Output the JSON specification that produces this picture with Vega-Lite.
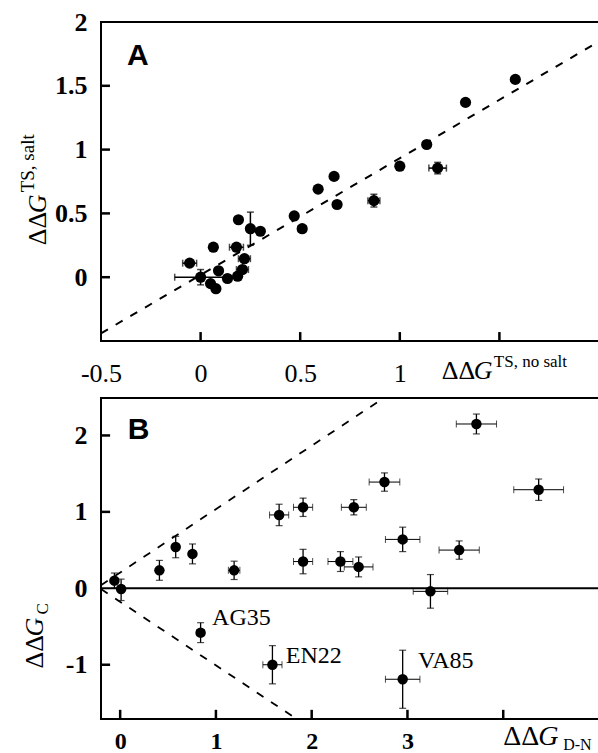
{
  "$schema": "https://vega.github.io/schema/vega-lite/v6.json",
  "padding": {"left": 17, "top": 8, "right": 0, "bottom": 0},
  "bounds": "flush",
  "spacing": 57,
  "config": {
    "view": {"stroke": "black", "strokeWidth": 2}
  },
  "datasets": {
    "A": [
      {"x": -0.055, "y": 0.11, "xlo": -0.09, "xhi": -0.02},
      {"x": 0.064, "y": 0.235},
      {"x": 0.0, "y": 0.0, "xlo": -0.13, "xhi": 0.13, "ylo": -0.06, "yhi": 0.06},
      {"x": 0.05, "y": -0.05},
      {"x": 0.077, "y": -0.09},
      {"x": 0.09, "y": 0.05},
      {"x": 0.135, "y": -0.01},
      {"x": 0.186, "y": 0.008},
      {"x": 0.18, "y": 0.235, "xlo": 0.145, "xhi": 0.215},
      {"x": 0.19, "y": 0.45},
      {"x": 0.22, "y": 0.145, "xlo": 0.19, "xhi": 0.25},
      {"x": 0.21, "y": 0.06, "xlo": 0.18, "xhi": 0.24},
      {"x": 0.25, "y": 0.38, "ylo": 0.25, "yhi": 0.51},
      {"x": 0.3, "y": 0.36},
      {"x": 0.47, "y": 0.48},
      {"x": 0.51, "y": 0.38, "xlo": 0.49, "xhi": 0.53},
      {"x": 0.59, "y": 0.69},
      {"x": 0.67, "y": 0.79},
      {"x": 0.685, "y": 0.57},
      {"x": 0.87, "y": 0.6, "xlo": 0.84, "xhi": 0.9, "ylo": 0.55, "yhi": 0.65},
      {"x": 1.0, "y": 0.87},
      {"x": 1.135, "y": 1.04},
      {"x": 1.19, "y": 0.855, "xlo": 1.146, "xhi": 1.234, "ylo": 0.81, "yhi": 0.9},
      {"x": 1.33, "y": 1.37},
      {"x": 1.58, "y": 1.55}
    ],
    "Aline": [
      {"x": -0.5, "y": -0.44},
      {"x": 1.97, "y": 1.82}
    ],
    "Apanel": [
      {"t": "A", "x": -0.37, "y": 1.66}
    ],
    "Axt": [
      {"x": 0, "y": -0.5, "y2": -0.43},
      {"x": 0.5, "y": -0.5, "y2": -0.43},
      {"x": 1, "y": -0.5, "y2": -0.43},
      {"x": 1.5, "y": -0.5, "y2": -0.43}
    ],
    "Ayt": [
      {"y": 0, "x": -0.5, "x2": -0.455},
      {"y": 0.5, "x": -0.5, "x2": -0.455},
      {"y": 1, "x": -0.5, "x2": -0.455},
      {"y": 1.5, "x": -0.5, "x2": -0.455}
    ],
    "Bxt": [
      {"x": 0, "y": -1.71, "y2": -1.59},
      {"x": 1, "y": -1.71, "y2": -1.59},
      {"x": 2, "y": -1.71, "y2": -1.59},
      {"x": 3, "y": -1.71, "y2": -1.59},
      {"x": 4, "y": -1.71, "y2": -1.59}
    ],
    "Byt": [
      {"y": -1, "x": -0.2, "x2": -0.105},
      {"y": 1, "x": -0.2, "x2": -0.105},
      {"y": 2, "x": -0.2, "x2": -0.105}
    ],
    "B": [
      {"x": -0.06, "y": 0.1, "ylo": 0.0, "yhi": 0.2},
      {"x": 0.01, "y": -0.01, "ylo": -0.16, "yhi": 0.12},
      {"x": 0.41, "y": 0.235, "ylo": 0.105, "yhi": 0.365},
      {"x": 0.58, "y": 0.54, "ylo": 0.4, "yhi": 0.68},
      {"x": 0.755, "y": 0.45, "ylo": 0.32, "yhi": 0.58},
      {"x": 1.19, "y": 0.235, "xlo": 1.13, "xhi": 1.25, "ylo": 0.115, "yhi": 0.355},
      {"x": 0.84, "y": -0.58, "xlo": 0.8, "xhi": 0.88, "ylo": -0.71, "yhi": -0.45},
      {"x": 1.59, "y": -1.0, "xlo": 1.49, "xhi": 1.69, "ylo": -1.25, "yhi": -0.75},
      {"x": 1.66, "y": 0.96, "xlo": 1.56, "xhi": 1.76, "ylo": 0.82, "yhi": 1.1},
      {"x": 1.91, "y": 1.06, "xlo": 1.81, "xhi": 2.01, "ylo": 0.94, "yhi": 1.18},
      {"x": 1.91, "y": 0.35, "xlo": 1.81, "xhi": 2.01, "ylo": 0.19, "yhi": 0.51},
      {"x": 2.44, "y": 1.06, "xlo": 2.31, "xhi": 2.57, "ylo": 0.96, "yhi": 1.16},
      {"x": 2.76, "y": 1.39, "xlo": 2.6, "xhi": 2.92, "ylo": 1.27, "yhi": 1.51},
      {"x": 2.3, "y": 0.35, "xlo": 2.17, "xhi": 2.43, "ylo": 0.22, "yhi": 0.48},
      {"x": 2.49, "y": 0.28, "xlo": 2.34, "xhi": 2.64, "ylo": 0.15, "yhi": 0.41},
      {"x": 2.95, "y": 0.64, "xlo": 2.77, "xhi": 3.13, "ylo": 0.48, "yhi": 0.8},
      {"x": 3.24, "y": -0.04, "xlo": 3.06, "xhi": 3.42, "ylo": -0.26, "yhi": 0.18},
      {"x": 3.54, "y": 0.5, "xlo": 3.33, "xhi": 3.75, "ylo": 0.38, "yhi": 0.62},
      {"x": 3.72, "y": 2.15, "xlo": 3.51, "xhi": 3.93, "ylo": 2.02, "yhi": 2.28},
      {"x": 4.37, "y": 1.29, "xlo": 4.11, "xhi": 4.63, "ylo": 1.15, "yhi": 1.43},
      {"x": 2.95, "y": -1.19, "xlo": 2.77, "xhi": 3.13, "ylo": -1.57, "yhi": -0.81}
    ],
    "Bdash": [
      {"line": "upper", "x": -0.2, "y": 0.04},
      {"line": "upper", "x": 2.74, "y": 2.48},
      {"line": "lower", "x": -0.2, "y": -0.01},
      {"line": "lower", "x": 1.82, "y": -1.69}
    ],
    "Bzero": [
      {"x": -0.2, "y": 0},
      {"x": 5, "y": 0}
    ],
    "Bpanel": [
      {"t": "B", "x": 0.08, "y": 1.95}
    ],
    "Blabels": [
      {"t": "AG35", "x": 0.96, "y": -0.39},
      {"t": "EN22", "x": 1.73, "y": -0.88},
      {"t": "VA85", "x": 3.11, "y": -0.95}
    ]
  },
  "vconcat": [
    {
      "width": 498,
      "height": 319,
      "encoding": {
        "x": {"type": "quantitative", "title": null, "scale": {"domain": [-0.5, 2], "nice": false, "zero": false},
          "axis": {"values": [-0.5, 0, 0.5, 1, 1.5], "title": null, "grid": false, "domain": false, "ticks": false, "labelFont": "Liberation Serif", "labelFontSize": 26, "labelColor": "black", "labelFlush": false, "format": "~g", "labelExpr": "datum.value > 1.2 ? '' : replace(datum.label, '\u2212', '-')", "labelFontWeight": "normal", "labelPadding": 19}},
        "y": {"type": "quantitative", "title": null, "scale": {"domain": [-0.5, 2], "nice": false, "zero": false},
          "axis": {"values": [0, 0.5, 1, 1.5, 2], "title": null, "grid": false, "domain": false, "ticks": false, "labelFont": "Liberation Serif", "labelFontSize": 26, "labelColor": "black", "format": "~g", "labelFontWeight": "bold", "labelPadding": 14}}
      },
      "layer": [
        {
          "data": {"name": "Axt"},
          "mark": {"type": "rule", "strokeWidth": 2.5, "color": "black"},
          "encoding": {"x": {"field": "x"}, "y": {"field": "y"}, "y2": {"field": "y2"}}
        },
        {
          "data": {"name": "Ayt"},
          "mark": {"type": "rule", "strokeWidth": 2.5, "color": "black"},
          "encoding": {"y": {"field": "y"}, "x": {"field": "x"}, "x2": {"field": "x2"}}
        },
        {
          "data": {"name": "Aline"},
          "mark": {"type": "line", "color": "black", "strokeWidth": 2, "strokeDash": [8, 9]},
          "encoding": {"x": {"field": "x"}, "y": {"field": "y"}}
        },
        {
          "data": {"name": "A"},
          "transform": [{"filter": "isValid(datum.xlo)"}],
          "mark": {"type": "errorbar", "ticks": {"size": 7, "thickness": 1.5, "color": "black"}, "rule": {"strokeWidth": 1.5, "color": "black"}},
          "encoding": {"x": {"field": "xlo"}, "x2": {"field": "xhi"}, "y": {"field": "y"}}
        },
        {
          "data": {"name": "A"},
          "transform": [{"filter": "isValid(datum.ylo)"}],
          "mark": {"type": "errorbar", "ticks": {"size": 7, "thickness": 1.5, "color": "black"}, "rule": {"strokeWidth": 1.5, "color": "black"}},
          "encoding": {"y": {"field": "ylo"}, "y2": {"field": "yhi"}, "x": {"field": "x"}}
        },
        {
          "data": {"name": "A"},
          "mark": {"type": "circle", "size": 125, "color": "black", "opacity": 1},
          "encoding": {"x": {"field": "x"}, "y": {"field": "y"}}
        },
        {
          "data": {"name": "Apanel"},
          "mark": {"type": "text", "font": "Liberation Sans", "fontWeight": "bold", "fontSize": 30, "align": "left", "baseline": "alphabetic", "color": "black"},
          "encoding": {"x": {"field": "x"}, "y": {"field": "y"}, "text": {"field": "t"}}
        },
        {
          "data": {"values": [{"x": 1.211, "y": -0.5}]},
          "layer": [
            {"mark": {"type": "text", "text": "ΔΔ", "font": "Liberation Serif", "fontSize": 26, "align": "left", "baseline": "alphabetic", "dy": 38, "color": "black"}},
            {"mark": {"type": "text", "text": "G", "font": "Liberation Serif", "fontStyle": "italic", "fontSize": 26, "align": "left", "baseline": "alphabetic", "dx": 32, "dy": 38, "color": "black"}},
            {"mark": {"type": "text", "text": "TS, no salt", "font": "Liberation Serif", "fontSize": 17, "align": "left", "baseline": "alphabetic", "dx": 52, "dy": 26, "color": "black"}}
          ],
          "encoding": {"x": {"field": "x"}, "y": {"field": "y"}}
        },
        {
          "data": {"values": [{"x": -0.5, "y": 0.25}]},
          "layer": [
            {"mark": {"type": "text", "text": "ΔΔ", "font": "Liberation Serif", "fontSize": 26, "angle": 270, "align": "left", "baseline": "middle", "dy": -63, "color": "black"}},
            {"mark": {"type": "text", "text": "G", "font": "Liberation Serif", "fontStyle": "italic", "fontSize": 26, "angle": 270, "align": "left", "baseline": "middle", "dx": 32, "dy": -63, "color": "black"}},
            {"mark": {"type": "text", "text": "TS, salt", "font": "Liberation Serif", "fontSize": 19, "angle": 270, "align": "left", "baseline": "middle", "dx": 53, "dy": -73, "color": "black"}}
          ],
          "encoding": {"x": {"field": "x"}, "y": {"field": "y"}}
        }
      ]
    },
    {
      "width": 498,
      "height": 321,
      "encoding": {
        "x": {"type": "quantitative", "title": null, "scale": {"domain": [-0.2, 5], "nice": false, "zero": false},
          "axis": {"values": [0, 1, 2, 3, 4], "title": null, "grid": false, "domain": false, "ticks": false, "labelFont": "Liberation Serif", "labelFontSize": 24, "labelColor": "black", "labelFlush": false, "labelExpr": "datum.value > 3.5 ? '' : datum.label", "labelFontWeight": "bold", "labelPadding": 10}},
        "y": {"type": "quantitative", "title": null, "scale": {"domain": [-1.71, 2.49], "nice": false, "zero": false},
          "axis": {"values": [-1, 0, 1, 2], "title": null, "grid": false, "domain": false, "ticks": false, "labelFont": "Liberation Serif", "labelFontSize": 26, "labelColor": "black", "labelExpr": "replace(datum.label, '\u2212', '-')", "labelFontWeight": "bold", "labelPadding": 14}}
      },
      "layer": [
        {
          "data": {"name": "Bxt"},
          "mark": {"type": "rule", "strokeWidth": 2.5, "color": "black"},
          "encoding": {"x": {"field": "x"}, "y": {"field": "y"}, "y2": {"field": "y2"}}
        },
        {
          "data": {"name": "Byt"},
          "mark": {"type": "rule", "strokeWidth": 2.5, "color": "black"},
          "encoding": {"y": {"field": "y"}, "x": {"field": "x"}, "x2": {"field": "x2"}}
        },
        {
          "data": {"name": "Bzero"},
          "mark": {"type": "line", "color": "black", "strokeWidth": 2},
          "encoding": {"x": {"field": "x"}, "y": {"field": "y"}}
        },
        {
          "data": {"name": "Bdash"},
          "mark": {"type": "line", "color": "black", "strokeWidth": 1.8, "strokeDash": [8, 9]},
          "encoding": {"x": {"field": "x"}, "y": {"field": "y"}, "detail": {"field": "line"}}
        },
        {
          "data": {"name": "B"},
          "transform": [{"filter": "isValid(datum.xlo)"}],
          "mark": {"type": "errorbar", "ticks": {"size": 7, "thickness": 1, "color": "black"}, "rule": {"strokeWidth": 1, "color": "black"}},
          "encoding": {"x": {"field": "xlo"}, "x2": {"field": "xhi"}, "y": {"field": "y"}}
        },
        {
          "data": {"name": "B"},
          "transform": [{"filter": "isValid(datum.ylo)"}],
          "mark": {"type": "errorbar", "ticks": {"size": 7, "thickness": 1.2, "color": "black"}, "rule": {"strokeWidth": 1.3, "color": "black"}},
          "encoding": {"y": {"field": "ylo"}, "y2": {"field": "yhi"}, "x": {"field": "x"}}
        },
        {
          "data": {"name": "B"},
          "mark": {"type": "circle", "size": 110, "color": "black", "opacity": 1},
          "encoding": {"x": {"field": "x"}, "y": {"field": "y"}}
        },
        {
          "data": {"name": "Blabels"},
          "mark": {"type": "text", "font": "Liberation Serif", "fontSize": 24, "align": "left", "baseline": "middle", "color": "black"},
          "encoding": {"x": {"field": "x"}, "y": {"field": "y"}, "text": {"field": "t"}}
        },
        {
          "data": {"name": "Bpanel"},
          "mark": {"type": "text", "font": "Liberation Sans", "fontWeight": "bold", "fontSize": 30, "align": "left", "baseline": "alphabetic", "color": "black"},
          "encoding": {"x": {"field": "x"}, "y": {"field": "y"}, "text": {"field": "t"}}
        },
        {
          "data": {"values": [{"x": 4.0, "y": -1.71}]},
          "layer": [
            {"mark": {"type": "text", "text": "ΔΔ", "font": "Liberation Serif", "fontSize": 28, "align": "left", "baseline": "alphabetic", "dy": 26, "color": "black"}},
            {"mark": {"type": "text", "text": "G", "font": "Liberation Serif", "fontStyle": "italic", "fontSize": 28, "align": "left", "baseline": "alphabetic", "dx": 35, "dy": 26, "color": "black"}},
            {"mark": {"type": "text", "text": "D-N", "font": "Liberation Serif", "fontSize": 16, "align": "left", "baseline": "alphabetic", "dx": 60, "dy": 31, "color": "black"}}
          ],
          "encoding": {"x": {"field": "x"}, "y": {"field": "y"}}
        },
        {
          "data": {"values": [{"x": -0.2, "y": -1.05}]},
          "layer": [
            {"mark": {"type": "text", "text": "ΔΔ", "font": "Liberation Serif", "fontSize": 26, "angle": 270, "align": "left", "baseline": "middle", "dy": -66, "color": "black"}},
            {"mark": {"type": "text", "text": "G", "font": "Liberation Serif", "fontStyle": "italic", "fontSize": 26, "angle": 270, "align": "left", "baseline": "middle", "dx": 32, "dy": -66, "color": "black"}},
            {"mark": {"type": "text", "text": "C", "font": "Liberation Serif", "fontSize": 17, "angle": 270, "align": "left", "baseline": "middle", "dx": 54, "dy": -58, "color": "black"}}
          ],
          "encoding": {"x": {"field": "x"}, "y": {"field": "y"}}
        }
      ]
    }
  ]
}
